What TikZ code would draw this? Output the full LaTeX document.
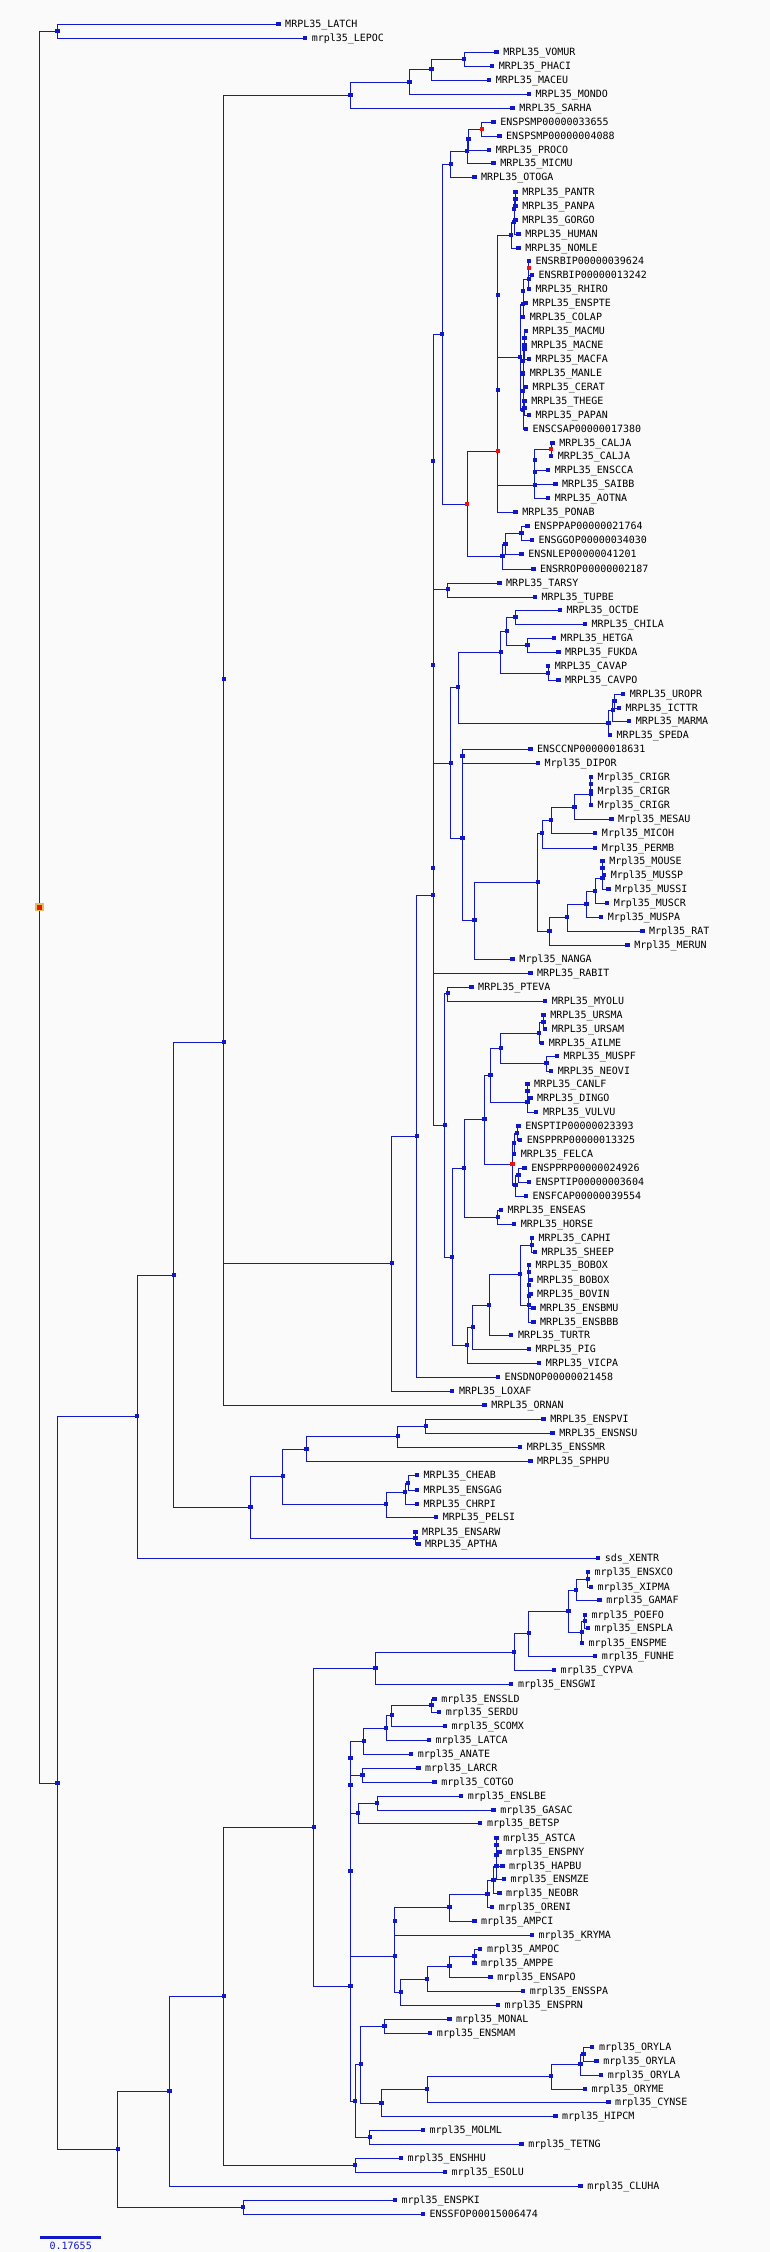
\documentclass[tikz,border=0pt]{standalone}
\usepackage{fontspec}
\newfontfamily\leaffont{DejaVu Sans Mono}
\usetikzlibrary{positioning,backgrounds}
\definecolor{treeblue}{RGB}{16,24,200}
\definecolor{duplred}{RGB}{240,16,16}
\definecolor{rootgold}{RGB}{230,190,80}
\definecolor{paper}{RGB}{250,250,250}
\tikzset{
    node distance=4.2pt,
    inode/.style = {
        shape=rectangle,
        fill=treeblue,
        minimum width=4.4pt,
        minimum height=4pt,
        inner sep=0pt
    },
    dnode/.style = {
        inode,
        fill=duplred
    },
    tip/.style = {
        inode
    },
    rootnode/.style = {
        shape=rectangle,
        fill=duplred,
        draw=rootgold,
        line width=1.7pt,
        minimum width=7pt,
        minimum height=6.7pt,
        inner sep=0pt
    },
    lab/.style = {
        font=\leaffont\fontsize{10}{12}\selectfont,
        inner sep=0pt,
        text height=7.3pt,
        text depth=0pt
    },
    branch/.style = {
        draw=treeblue,
        line width=0.9pt
    },
}

\begin{document}
\begin{tikzpicture}[x=1.4732pt,y=-1pt]
                \useasboundingbox (0,0) rectangle (522.67,2252);

                % internal nodes
                \node[rootnode] (root) at (27,907) {};
                \node[inode] (latlep) at (39,31) {};
                \node[inode] (vert) at (39,1783) {};
                \node[inode] (tetp) at (93,1416) {};
                \node[inode] (amni) at (118,1275) {};
                \node[inode] (mamm) at (152,1042) {};
                \node[inode] (thera) at (152,679) {};
                \node[inode] (mars) at (238,95) {};
                \node[inode] (marsA) at (278,82) {};
                \node[inode] (marsB) at (293,69) {};
                \node[inode] (marsC) at (315,59) {};
                \node[inode] (euth) at (266,1263) {};
                \node[inode] (euthA) at (283,1136) {};
                \node[inode] (bore) at (294,895) {};
                \node[inode] (euarA) at (294,665) {};
                \node[inode] (euarB) at (294,461) {};
                \node[inode] (prim) at (300,334) {};
                \node[inode] (strep) at (306,164) {};
                \node[inode] (lemA) at (317,151) {};
                \node[inode] (lemB) at (318,139) {};
                \node[dnode] (psm) at (327,129) {};
                \node[dnode] (anth) at (317,504) {};
                \node[dnode] (catA) at (338,451) {};
                \node[inode] (catB) at (338,390) {};
                \node[inode] (catC) at (338,295) {};
                \node[inode] (homA) at (347,235) {};
                \node[inode] (homB) at (349,222) {};
                \node[inode] (homC) at (349,209) {};
                \node[inode] (homD) at (350,199) {};
                \node[inode] (cerc) at (353,357) {};
                \node[inode] (cercA) at (355,304) {};
                \node[inode] (cercB) at (355,291) {};
                \node[inode] (cercC) at (359,279) {};
                \node[dnode] (rbip) at (359,268) {};
                \node[inode] (cercG) at (355,410) {};
                \node[inode] (cercF) at (355,391) {};
                \node[inode] (cercD) at (355,374) {};
                \node[inode] (cercE) at (356,408) {};
                \node[inode] (macC) at (355,361) {};
                \node[inode] (macB) at (356,349) {};
                \node[inode] (macA) at (356,338) {};
                \node[inode] (platy) at (363,485) {};
                \node[inode] (platyA) at (363,472) {};
                \node[inode] (platyB) at (363,460) {};
                \node[dnode] (calja) at (374,449) {};
                \node[inode] (ensHom) at (341,556) {};
                \node[inode] (ensHomA) at (343,544) {};
                \node[inode] (ensHomB) at (354,533) {};
                \node[inode] (tartup) at (304,589) {};
                \node[inode] (glires) at (294,868) {};
                \node[inode] (rode) at (306,763) {};
                \node[inode] (rodA) at (311,687) {};
                \node[inode] (hyst) at (340,652) {};
                \node[inode] (hystA) at (344,631) {};
                \node[inode] (octo) at (350,617) {};
                \node[inode] (bath) at (358,645) {};
                \node[inode] (cav) at (372,673) {};
                \node[inode] (sciu) at (413,723) {};
                \node[inode] (sciuA) at (416,710) {};
                \node[inode] (sciuB) at (417,701) {};
                \node[inode] (rodB) at (314,838) {};
                \node[inode] (dipo) at (314,756) {};
                \node[inode] (myo) at (322,920) {};
                \node[inode] (muro) at (365,882) {};
                \node[inode] (cric) at (368,833) {};
                \node[inode] (cricA) at (374,820) {};
                \node[inode] (cricB) at (390,807) {};
                \node[inode] (crigr) at (401,794) {};
                \node[inode] (crigrAB) at (401,784) {};
                \node[inode] (murA) at (373,931) {};
                \node[inode] (murB) at (385,917) {};
                \node[inode] (mus) at (398,904) {};
                \node[inode] (musA) at (404,891) {};
                \node[inode] (musB) at (409,878) {};
                \node[inode] (musC) at (409,868) {};
                \node[inode] (laur) at (302,1125) {};
                \node[inode] (chir) at (304,993) {};
                \node[inode] (laurA) at (307,1257) {};
                \node[inode] (ferp) at (315,1168) {};
                \node[inode] (carn) at (329,1119) {};
                \node[inode] (canif) at (333,1075) {};
                \node[inode] (arct) at (340,1048) {};
                \node[inode] (urs) at (366,1033) {};
                \node[inode] (ursA) at (369,1022) {};
                \node[inode] (mustA) at (371,1063) {};
                \node[inode] (can) at (358,1102) {};
                \node[inode] (canA) at (358,1091) {};
                \node[dnode] (fel) at (348,1164) {};
                \node[inode] (felA) at (349,1143) {};
                \node[inode] (felC) at (351,1133) {};
                \node[inode] (felB) at (350,1185) {};
                \node[inode] (felD) at (352,1175) {};
                \node[inode] (equ) at (338,1217) {};
                \node[inode] (cet) at (317,1345) {};
                \node[inode] (cetA) at (321,1327) {};
                \node[inode] (cetB) at (332,1305) {};
                \node[inode] (rum) at (353,1274) {};
                \node[inode] (capr) at (361,1245) {};
                \node[inode] (bov) at (359,1305) {};
                \node[inode] (bovA) at (359,1296) {};
                \node[inode] (bovB) at (359,1285) {};
                \node[inode] (bovC) at (359,1272) {};
                \node[inode] (saur) at (170,1507) {};
                \node[inode] (saurA) at (192,1476) {};
                \node[inode] (squa) at (208,1449) {};
                \node[inode] (squaA) at (270,1436) {};
                \node[inode] (squaB) at (289,1426) {};
                \node[inode] (test) at (262,1504) {};
                \node[inode] (testA) at (275,1492) {};
                \node[inode] (testB) at (277,1483) {};
                \node[inode] (arch) at (282,1538) {};
                \node[inode] (fish) at (80,2149) {};
                \node[inode] (salm) at (165,2207) {};
                \node[inode] (oste) at (115,2091) {};
                \node[inode] (clup) at (152,1996) {};
                \node[inode] (esoc) at (241,2165) {};
                \node[inode] (acan) at (213,1827) {};
                \node[inode] (cypr) at (255,1668) {};
                \node[inode] (cyprA) at (349,1652) {};
                \node[inode] (cyprB) at (359,1633) {};
                \node[inode] (cyprC) at (386,1611) {};
                \node[inode] (poec) at (391,1590) {};
                \node[inode] (xiph) at (399,1579) {};
                \node[inode] (poecB) at (395,1632) {};
                \node[inode] (poecC) at (397,1621) {};
                \node[inode] (perc) at (238,1986) {};
                \node[inode] (percA) at (238,1871) {};
                \node[inode] (percB) at (238,1785) {};
                \node[inode] (percC) at (238,1758) {};
                \node[inode] (scom) at (247,1741) {};
                \node[inode] (scomA) at (262,1728) {};
                \node[inode] (scomB) at (266,1715) {};
                \node[inode] (scomC) at (293,1705) {};
                \node[inode] (lar) at (246,1775) {};
                \node[inode] (gast) at (243,1813) {};
                \node[inode] (gastA) at (256,1803) {};
                \node[inode] (cich) at (268,1956) {};
                \node[inode] (cichA) at (268,1921) {};
                \node[inode] (cichB) at (305,1907) {};
                \node[inode] (cichC) at (331,1894) {};
                \node[inode] (cichD) at (335,1880) {};
                \node[inode] (cichE) at (337,1866) {};
                \node[inode] (cichF) at (337,1855) {};
                \node[inode] (cichG) at (337,1845) {};
                \node[inode] (cichH) at (272,1992) {};
                \node[inode] (cichI) at (290,1979) {};
                \node[inode] (cichJ) at (305,1966) {};
                \node[inode] (amp) at (322,1956) {};
                \node[inode] (percH) at (241,2101) {};
                \node[inode] (percI) at (245,2064) {};
                \node[inode] (mon) at (261,2026) {};
                \node[inode] (ath) at (259,2103) {};
                \node[inode] (athA) at (290,2089) {};
                \node[inode] (ory) at (374,2076) {};
                \node[inode] (oryA) at (394,2064) {};
                \node[inode] (oryB) at (396,2054) {};
                \node[inode] (tetn) at (251,2137) {};

                % leaves
                \node[tip] (latch) at (189,24) {};
                \node[lab, right=of latch] (latch-t) {MRPL35\_LATCH};
                \node[tip] (lepoc) at (207,38) {};
                \node[lab, right=of lepoc] (lepoc-t) {mrpl35\_LEPOC};
                \node[tip] (vomur) at (337,52) {};
                \node[lab, right=of vomur] (vomur-t) {MRPL35\_VOMUR};
                \node[tip] (phaci) at (334,66) {};
                \node[lab, right=of phaci] (phaci-t) {MRPL35\_PHACI};
                \node[tip] (maceu) at (332,80) {};
                \node[lab, right=of maceu] (maceu-t) {MRPL35\_MACEU};
                \node[tip] (mondo) at (359,94) {};
                \node[lab, right=of mondo] (mondo-t) {MRPL35\_MONDO};
                \node[tip] (sarha) at (348,108) {};
                \node[lab, right=of sarha] (sarha-t) {MRPL35\_SARHA};
                \node[tip] (psmA) at (335,122) {};
                \node[lab, right=of psmA] (psmA-t) {ENSPSMP00000033655};
                \node[tip] (psmB) at (339,136) {};
                \node[lab, right=of psmB] (psmB-t) {ENSPSMP00000004088};
                \node[tip] (proco) at (332,150) {};
                \node[lab, right=of proco] (proco-t) {MRPL35\_PROCO};
                \node[tip] (micmu) at (335,163) {};
                \node[lab, right=of micmu] (micmu-t) {MRPL35\_MICMU};
                \node[tip] (otoga) at (322,177) {};
                \node[lab, right=of otoga] (otoga-t) {MRPL35\_OTOGA};
                \node[tip] (pantr) at (350,192) {};
                \node[lab, right=of pantr] (pantr-t) {MRPL35\_PANTR};
                \node[tip] (panpa) at (350,206) {};
                \node[lab, right=of panpa] (panpa-t) {MRPL35\_PANPA};
                \node[tip] (gorgo) at (350,220) {};
                \node[lab, right=of gorgo] (gorgo-t) {MRPL35\_GORGO};
                \node[tip] (human) at (352,234) {};
                \node[lab, right=of human] (human-t) {MRPL35\_HUMAN};
                \node[tip] (nomle) at (352,248) {};
                \node[lab, right=of nomle] (nomle-t) {MRPL35\_NOMLE};
                \node[tip] (rbipA) at (359,261) {};
                \node[lab, right=of rbipA] (rbipA-t) {ENSRBIP00000039624};
                \node[tip] (rbipB) at (361,275) {};
                \node[lab, right=of rbipB] (rbipB-t) {ENSRBIP00000013242};
                \node[tip] (rhiro) at (359,289) {};
                \node[lab, right=of rhiro] (rhiro-t) {MRPL35\_RHIRO};
                \node[tip] (enspte) at (357,303) {};
                \node[lab, right=of enspte] (enspte-t) {MRPL35\_ENSPTE};
                \node[tip] (colap) at (355,317) {};
                \node[lab, right=of colap] (colap-t) {MRPL35\_COLAP};
                \node[tip] (macmu) at (357,331) {};
                \node[lab, right=of macmu] (macmu-t) {MRPL35\_MACMU};
                \node[tip] (macne) at (356,345) {};
                \node[lab, right=of macne] (macne-t) {MRPL35\_MACNE};
                \node[tip] (macfa) at (359,359) {};
                \node[lab, right=of macfa] (macfa-t) {MRPL35\_MACFA};
                \node[tip] (manle) at (355,373) {};
                \node[lab, right=of manle] (manle-t) {MRPL35\_MANLE};
                \node[tip] (cerat) at (357,387) {};
                \node[lab, right=of cerat] (cerat-t) {MRPL35\_CERAT};
                \node[tip] (thege) at (356,401) {};
                \node[lab, right=of thege] (thege-t) {MRPL35\_THEGE};
                \node[tip] (papan) at (359,415) {};
                \node[lab, right=of papan] (papan-t) {MRPL35\_PAPAN};
                \node[tip] (csap) at (357,429) {};
                \node[lab, right=of csap] (csap-t) {ENSCSAP00000017380};
                \node[tip] (caljaA) at (375,443) {};
                \node[lab, right=of caljaA] (caljaA-t) {MRPL35\_CALJA};
                \node[tip] (caljaB) at (374,456) {};
                \node[lab, right=of caljaB] (caljaB-t) {MRPL35\_CALJA};
                \node[tip] (enscca) at (372,470) {};
                \node[lab, right=of enscca] (enscca-t) {MRPL35\_ENSCCA};
                \node[tip] (saibb) at (377,484) {};
                \node[lab, right=of saibb] (saibb-t) {MRPL35\_SAIBB};
                \node[tip] (aotna) at (372,498) {};
                \node[lab, right=of aotna] (aotna-t) {MRPL35\_AOTNA};
                \node[tip] (ponab) at (350,512) {};
                \node[lab, right=of ponab] (ponab-t) {MRPL35\_PONAB};
                \node[tip] (ppap) at (358,526) {};
                \node[lab, right=of ppap] (ppap-t) {ENSPPAP00000021764};
                \node[tip] (ggop) at (361,540) {};
                \node[lab, right=of ggop] (ggop-t) {ENSGGOP00000034030};
                \node[tip] (nlep) at (354,554) {};
                \node[lab, right=of nlep] (nlep-t) {ENSNLEP00000041201};
                \node[tip] (rrop) at (362,569) {};
                \node[lab, right=of rrop] (rrop-t) {ENSRROP00000002187};
                \node[tip] (tarsy) at (339,583) {};
                \node[lab, right=of tarsy] (tarsy-t) {MRPL35\_TARSY};
                \node[tip] (tupbe) at (363,597) {};
                \node[lab, right=of tupbe] (tupbe-t) {MRPL35\_TUPBE};
                \node[tip] (octde) at (380,610) {};
                \node[lab, right=of octde] (octde-t) {MRPL35\_OCTDE};
                \node[tip] (chila) at (397,624) {};
                \node[lab, right=of chila] (chila-t) {MRPL35\_CHILA};
                \node[tip] (hetga) at (376,638) {};
                \node[lab, right=of hetga] (hetga-t) {MRPL35\_HETGA};
                \node[tip] (fukda) at (379,652) {};
                \node[lab, right=of fukda] (fukda-t) {MRPL35\_FUKDA};
                \node[tip] (cavap) at (372,666) {};
                \node[lab, right=of cavap] (cavap-t) {MRPL35\_CAVAP};
                \node[tip] (cavpo) at (379,680) {};
                \node[lab, right=of cavpo] (cavpo-t) {MRPL35\_CAVPO};
                \node[tip] (uropr) at (423,694) {};
                \node[lab, right=of uropr] (uropr-t) {MRPL35\_UROPR};
                \node[tip] (icttr) at (420,708) {};
                \node[lab, right=of icttr] (icttr-t) {MRPL35\_ICTTR};
                \node[tip] (marma) at (427,721) {};
                \node[lab, right=of marma] (marma-t) {MRPL35\_MARMA};
                \node[tip] (speda) at (414,735) {};
                \node[lab, right=of speda] (speda-t) {MRPL35\_SPEDA};
                \node[tip] (ccnp) at (360,749) {};
                \node[lab, right=of ccnp] (ccnp-t) {ENSCCNP00000018631};
                \node[tip] (dipor) at (365,763) {};
                \node[lab, right=of dipor] (dipor-t) {Mrpl35\_DIPOR};
                \node[tip] (crigrA) at (401,777) {};
                \node[lab, right=of crigrA] (crigrA-t) {Mrpl35\_CRIGR};
                \node[tip] (crigrB) at (401,791) {};
                \node[lab, right=of crigrB] (crigrB-t) {Mrpl35\_CRIGR};
                \node[tip] (crigrC) at (401,805) {};
                \node[lab, right=of crigrC] (crigrC-t) {Mrpl35\_CRIGR};
                \node[tip] (mesau) at (415,819) {};
                \node[lab, right=of mesau] (mesau-t) {Mrpl35\_MESAU};
                \node[tip] (micoh) at (404,833) {};
                \node[lab, right=of micoh] (micoh-t) {Mrpl35\_MICOH};
                \node[tip] (permb) at (404,848) {};
                \node[lab, right=of permb] (permb-t) {Mrpl35\_PERMB};
                \node[tip] (mouse) at (409,861) {};
                \node[lab, right=of mouse] (mouse-t) {Mrpl35\_MOUSE};
                \node[tip] (mussp) at (410,875) {};
                \node[lab, right=of mussp] (mussp-t) {Mrpl35\_MUSSP};
                \node[tip] (mussi) at (413,889) {};
                \node[lab, right=of mussi] (mussi-t) {Mrpl35\_MUSSI};
                \node[tip] (muscr) at (412,903) {};
                \node[lab, right=of muscr] (muscr-t) {Mrpl35\_MUSCR};
                \node[tip] (muspa) at (408,917) {};
                \node[lab, right=of muspa] (muspa-t) {Mrpl35\_MUSPA};
                \node[tip] (rat) at (436,931) {};
                \node[lab, right=of rat] (rat-t) {Mrpl35\_RAT};
                \node[tip] (merun) at (426,945) {};
                \node[lab, right=of merun] (merun-t) {Mrpl35\_MERUN};
                \node[tip] (nanga) at (348,959) {};
                \node[lab, right=of nanga] (nanga-t) {Mrpl35\_NANGA};
                \node[tip] (rabit) at (360,973) {};
                \node[lab, right=of rabit] (rabit-t) {MRPL35\_RABIT};
                \node[tip] (pteva) at (320,987) {};
                \node[lab, right=of pteva] (pteva-t) {MRPL35\_PTEVA};
                \node[tip] (myolu) at (370,1001) {};
                \node[lab, right=of myolu] (myolu-t) {MRPL35\_MYOLU};
                \node[tip] (ursma) at (369,1015) {};
                \node[lab, right=of ursma] (ursma-t) {MRPL35\_URSMA};
                \node[tip] (ursam) at (370,1029) {};
                \node[lab, right=of ursam] (ursam-t) {MRPL35\_URSAM};
                \node[tip] (ailme) at (368,1043) {};
                \node[lab, right=of ailme] (ailme-t) {MRPL35\_AILME};
                \node[tip] (muspf) at (378,1056) {};
                \node[lab, right=of muspf] (muspf-t) {MRPL35\_MUSPF};
                \node[tip] (neovi) at (374,1071) {};
                \node[lab, right=of neovi] (neovi-t) {MRPL35\_NEOVI};
                \node[tip] (canlf) at (358,1084) {};
                \node[lab, right=of canlf] (canlf-t) {MRPL35\_CANLF};
                \node[tip] (dingo) at (360,1098) {};
                \node[lab, right=of dingo] (dingo-t) {MRPL35\_DINGO};
                \node[tip] (vulvu) at (364,1112) {};
                \node[lab, right=of vulvu] (vulvu-t) {MRPL35\_VULVU};
                \node[tip] (ptipA) at (352,1126) {};
                \node[lab, right=of ptipA] (ptipA-t) {ENSPTIP00000023393};
                \node[tip] (pprpA) at (353,1140) {};
                \node[lab, right=of pprpA] (pprpA-t) {ENSPPRP00000013325};
                \node[tip] (felca) at (349,1154) {};
                \node[lab, right=of felca] (felca-t) {MRPL35\_FELCA};
                \node[tip] (pprpB) at (356,1168) {};
                \node[lab, right=of pprpB] (pprpB-t) {ENSPPRP00000024926};
                \node[tip] (ptipB) at (359,1182) {};
                \node[lab, right=of ptipB] (ptipB-t) {ENSPTIP00000003604};
                \node[tip] (fcap) at (357,1196) {};
                \node[lab, right=of fcap] (fcap-t) {ENSFCAP00000039554};
                \node[tip] (enseas) at (340,1210) {};
                \node[lab, right=of enseas] (enseas-t) {MRPL35\_ENSEAS};
                \node[tip] (horse) at (349,1224) {};
                \node[lab, right=of horse] (horse-t) {MRPL35\_HORSE};
                \node[tip] (caphi) at (361,1238) {};
                \node[lab, right=of caphi] (caphi-t) {MRPL35\_CAPHI};
                \node[tip] (sheep) at (363,1252) {};
                \node[lab, right=of sheep] (sheep-t) {MRPL35\_SHEEP};
                \node[tip] (boboxA) at (359,1265) {};
                \node[lab, right=of boboxA] (boboxA-t) {MRPL35\_BOBOX};
                \node[tip] (boboxB) at (360,1280) {};
                \node[lab, right=of boboxB] (boboxB-t) {MRPL35\_BOBOX};
                \node[tip] (bovin) at (360,1294) {};
                \node[lab, right=of bovin] (bovin-t) {MRPL35\_BOVIN};
                \node[tip] (ensbmu) at (362,1308) {};
                \node[lab, right=of ensbmu] (ensbmu-t) {MRPL35\_ENSBMU};
                \node[tip] (ensbbb) at (362,1322) {};
                \node[lab, right=of ensbbb] (ensbbb-t) {MRPL35\_ENSBBB};
                \node[tip] (turtr) at (347,1335) {};
                \node[lab, right=of turtr] (turtr-t) {MRPL35\_TURTR};
                \node[tip] (pig) at (359,1349) {};
                \node[lab, right=of pig] (pig-t) {MRPL35\_PIG};
                \node[tip] (vicpa) at (366,1363) {};
                \node[lab, right=of vicpa] (vicpa-t) {MRPL35\_VICPA};
                \node[tip] (dnop) at (338,1377) {};
                \node[lab, right=of dnop] (dnop-t) {ENSDNOP00000021458};
                \node[tip] (loxaf) at (307,1391) {};
                \node[lab, right=of loxaf] (loxaf-t) {MRPL35\_LOXAF};
                \node[tip] (ornan) at (329,1405) {};
                \node[lab, right=of ornan] (ornan-t) {MRPL35\_ORNAN};
                \node[tip] (enspvi) at (369,1419) {};
                \node[lab, right=of enspvi] (enspvi-t) {MRPL35\_ENSPVI};
                \node[tip] (ensnsu) at (375,1433) {};
                \node[lab, right=of ensnsu] (ensnsu-t) {MRPL35\_ENSNSU};
                \node[tip] (enssmr) at (353,1447) {};
                \node[lab, right=of enssmr] (enssmr-t) {MRPL35\_ENSSMR};
                \node[tip] (sphpu) at (360,1461) {};
                \node[lab, right=of sphpu] (sphpu-t) {MRPL35\_SPHPU};
                \node[tip] (cheab) at (283,1475) {};
                \node[lab, right=of cheab] (cheab-t) {MRPL35\_CHEAB};
                \node[tip] (ensgag) at (283,1490) {};
                \node[lab, right=of ensgag] (ensgag-t) {MRPL35\_ENSGAG};
                \node[tip] (chrpi) at (283,1504) {};
                \node[lab, right=of chrpi] (chrpi-t) {MRPL35\_CHRPI};
                \node[tip] (pelsi) at (296,1517) {};
                \node[lab, right=of pelsi] (pelsi-t) {MRPL35\_PELSI};
                \node[tip] (ensarw) at (282,1532) {};
                \node[lab, right=of ensarw] (ensarw-t) {MRPL35\_ENSARW};
                \node[tip] (aptha) at (284,1544) {};
                \node[lab, right=of aptha] (aptha-t) {MRPL35\_APTHA};
                \node[tip] (xentr) at (406,1558) {};
                \node[lab, right=of xentr] (xentr-t) {sds\_XENTR};
                \node[tip] (ensxco) at (399,1572) {};
                \node[lab, right=of ensxco] (ensxco-t) {mrpl35\_ENSXCO};
                \node[tip] (xipma) at (401,1587) {};
                \node[lab, right=of xipma] (xipma-t) {mrpl35\_XIPMA};
                \node[tip] (gamaf) at (407,1600) {};
                \node[lab, right=of gamaf] (gamaf-t) {mrpl35\_GAMAF};
                \node[tip] (poefo) at (397,1615) {};
                \node[lab, right=of poefo] (poefo-t) {mrpl35\_POEFO};
                \node[tip] (enspla) at (399,1628) {};
                \node[lab, right=of enspla] (enspla-t) {mrpl35\_ENSPLA};
                \node[tip] (enspme) at (395,1643) {};
                \node[lab, right=of enspme] (enspme-t) {mrpl35\_ENSPME};
                \node[tip] (funhe) at (404,1656) {};
                \node[lab, right=of funhe] (funhe-t) {mrpl35\_FUNHE};
                \node[tip] (cypva) at (376,1670) {};
                \node[lab, right=of cypva] (cypva-t) {mrpl35\_CYPVA};
                \node[tip] (ensgwi) at (347,1684) {};
                \node[lab, right=of ensgwi] (ensgwi-t) {mrpl35\_ENSGWI};
                \node[tip] (enssld) at (295,1699) {};
                \node[lab, right=of enssld] (enssld-t) {mrpl35\_ENSSLD};
                \node[tip] (serdu) at (298,1712) {};
                \node[lab, right=of serdu] (serdu-t) {mrpl35\_SERDU};
                \node[tip] (scomx) at (302,1726) {};
                \node[lab, right=of scomx] (scomx-t) {mrpl35\_SCOMX};
                \node[tip] (latca) at (291,1740) {};
                \node[lab, right=of latca] (latca-t) {mrpl35\_LATCA};
                \node[tip] (anate) at (279,1754) {};
                \node[lab, right=of anate] (anate-t) {mrpl35\_ANATE};
                \node[tip] (larcr) at (284,1768) {};
                \node[lab, right=of larcr] (larcr-t) {mrpl35\_LARCR};
                \node[tip] (cotgo) at (295,1782) {};
                \node[lab, right=of cotgo] (cotgo-t) {mrpl35\_COTGO};
                \node[tip] (enslbe) at (313,1796) {};
                \node[lab, right=of enslbe] (enslbe-t) {mrpl35\_ENSLBE};
                \node[tip] (gasac) at (335,1810) {};
                \node[lab, right=of gasac] (gasac-t) {mrpl35\_GASAC};
                \node[tip] (betsp) at (326,1823) {};
                \node[lab, right=of betsp] (betsp-t) {mrpl35\_BETSP};
                \node[tip] (astca) at (337,1838) {};
                \node[lab, right=of astca] (astca-t) {mrpl35\_ASTCA};
                \node[tip] (enspny) at (339,1852) {};
                \node[lab, right=of enspny] (enspny-t) {mrpl35\_ENSPNY};
                \node[tip] (hapbu) at (341,1866) {};
                \node[lab, right=of hapbu] (hapbu-t) {mrpl35\_HAPBU};
                \node[tip] (ensmze) at (342,1879) {};
                \node[lab, right=of ensmze] (ensmze-t) {mrpl35\_ENSMZE};
                \node[tip] (neobr) at (339,1893) {};
                \node[lab, right=of neobr] (neobr-t) {mrpl35\_NEOBR};
                \node[tip] (oreni) at (334,1907) {};
                \node[lab, right=of oreni] (oreni-t) {mrpl35\_ORENI};
                \node[tip] (ampci) at (322,1921) {};
                \node[lab, right=of ampci] (ampci-t) {mrpl35\_AMPCI};
                \node[tip] (kryma) at (361,1935) {};
                \node[lab, right=of kryma] (kryma-t) {mrpl35\_KRYMA};
                \node[tip] (ampoc) at (326,1949) {};
                \node[lab, right=of ampoc] (ampoc-t) {mrpl35\_AMPOC};
                \node[tip] (amppe) at (322,1963) {};
                \node[lab, right=of amppe] (amppe-t) {mrpl35\_AMPPE};
                \node[tip] (ensapo) at (333,1977) {};
                \node[lab, right=of ensapo] (ensapo-t) {mrpl35\_ENSAPO};
                \node[tip] (ensspa) at (355,1991) {};
                \node[lab, right=of ensspa] (ensspa-t) {mrpl35\_ENSSPA};
                \node[tip] (ensprn) at (338,2005) {};
                \node[lab, right=of ensprn] (ensprn-t) {mrpl35\_ENSPRN};
                \node[tip] (monal) at (305,2019) {};
                \node[lab, right=of monal] (monal-t) {mrpl35\_MONAL};
                \node[tip] (ensmam) at (292,2033) {};
                \node[lab, right=of ensmam] (ensmam-t) {mrpl35\_ENSMAM};
                \node[tip] (orylaA) at (402,2047) {};
                \node[lab, right=of orylaA] (orylaA-t) {mrpl35\_ORYLA};
                \node[tip] (orylaB) at (405,2061) {};
                \node[lab, right=of orylaB] (orylaB-t) {mrpl35\_ORYLA};
                \node[tip] (orylaC) at (408,2075) {};
                \node[lab, right=of orylaC] (orylaC-t) {mrpl35\_ORYLA};
                \node[tip] (oryme) at (397,2089) {};
                \node[lab, right=of oryme] (oryme-t) {mrpl35\_ORYME};
                \node[tip] (cynse) at (413,2102) {};
                \node[lab, right=of cynse] (cynse-t) {mrpl35\_CYNSE};
                \node[tip] (hipcm) at (377,2116) {};
                \node[lab, right=of hipcm] (hipcm-t) {mrpl35\_HIPCM};
                \node[tip] (molml) at (287,2130) {};
                \node[lab, right=of molml] (molml-t) {mrpl35\_MOLML};
                \node[tip] (tetng) at (354,2144) {};
                \node[lab, right=of tetng] (tetng-t) {mrpl35\_TETNG};
                \node[tip] (enshhu) at (272,2158) {};
                \node[lab, right=of enshhu] (enshhu-t) {mrpl35\_ENSHHU};
                \node[tip] (esolu) at (302,2172) {};
                \node[lab, right=of esolu] (esolu-t) {mrpl35\_ESOLU};
                \node[tip] (cluha) at (394,2186) {};
                \node[lab, right=of cluha] (cluha-t) {mrpl35\_CLUHA};
                \node[tip] (enspki) at (268,2200) {};
                \node[lab, right=of enspki] (enspki-t) {mrpl35\_ENSPKI};
                \node[tip] (ssfop) at (287,2214) {};
                \node[lab, right=of ssfop] (ssfop-t) {ENSSFOP00015006474};

                % scale bar
                \coordinate (scaleL) at (27.3,2237.5);
                \coordinate (scaleR) at (68.3,2237.5);
                \path[draw=treeblue, line width=2.5pt] (scaleL) -- (scaleR);
                \node[lab, text=treeblue, anchor=north] (scale-t) at (48,2241.5) {0.17655};

                \begin{scope}[on background layer]
                \fill[paper] (0,0) rectangle (522.67,2252);
                \path[branch] (root.center) |- (latlep.center) (root.center) |- (vert.center);
                \path[branch] (latlep.center) |- (latch.center) (latlep.center) |- (lepoc.center);
                \path[branch] (vert.center) |- (tetp.center) (vert.center) |- (fish.center);
                \path[branch] (tetp.center) |- (amni.center) (tetp.center) |- (xentr.center);
                \path[branch] (amni.center) |- (mamm.center) (amni.center) |- (saur.center);
                \path[branch] (mamm.center) |- (thera.center) (mamm.center) |- (ornan.center);
                \path[branch] (thera.center) |- (mars.center) (thera.center) |- (euth.center);
                \path[branch] (mars.center) |- (marsA.center) (mars.center) |- (sarha.center);
                \path[branch] (marsA.center) |- (marsB.center) (marsA.center) |- (mondo.center);
                \path[branch] (marsB.center) |- (marsC.center) (marsB.center) |- (maceu.center);
                \path[branch] (marsC.center) |- (vomur.center) (marsC.center) |- (phaci.center);
                \path[branch] (euth.center) |- (euthA.center) (euth.center) |- (loxaf.center);
                \path[branch] (euthA.center) |- (bore.center) (euthA.center) |- (dnop.center);
                \path[branch] (bore.center) |- (euarA.center) (bore.center) |- (laur.center);
                \path[branch] (euarA.center) |- (euarB.center) (euarA.center) |- (glires.center);
                \path[branch] (euarB.center) |- (prim.center) (euarB.center) |- (tartup.center);
                \path[branch] (prim.center) |- (strep.center) (prim.center) |- (anth.center);
                \path[branch] (strep.center) |- (lemA.center) (strep.center) |- (otoga.center);
                \path[branch] (lemA.center) |- (lemB.center) (lemA.center) |- (micmu.center);
                \path[branch] (lemB.center) |- (psm.center) (lemB.center) |- (proco.center);
                \path[branch] (psm.center) |- (psmA.center) (psm.center) |- (psmB.center);
                \path[branch] (anth.center) |- (catA.center) (anth.center) |- (ensHom.center);
                \path[branch] (catA.center) |- (catB.center) (catA.center) |- (ponab.center);
                \path[branch] (catB.center) |- (catC.center) (catB.center) |- (platy.center);
                \path[branch] (catC.center) |- (homA.center) (catC.center) |- (cerc.center);
                \path[branch] (homA.center) |- (homB.center) (homA.center) |- (nomle.center);
                \path[branch] (homB.center) |- (homC.center) (homB.center) |- (human.center);
                \path[branch] (homC.center) |- (homD.center) (homC.center) |- (gorgo.center);
                \path[branch] (homD.center) |- (pantr.center) (homD.center) |- (panpa.center);
                \path[branch] (cerc.center) |- (cercA.center) (cerc.center) |- (cercG.center);
                \path[branch] (cercA.center) |- (cercB.center) (cercA.center) |- (colap.center);
                \path[branch] (cercB.center) |- (cercC.center) (cercB.center) |- (enspte.center);
                \path[branch] (cercC.center) |- (rbip.center) (cercC.center) |- (rhiro.center);
                \path[branch] (rbip.center) |- (rbipA.center) (rbip.center) |- (rbipB.center);
                \path[branch] (cercG.center) |- (cercF.center) (cercG.center) |- (csap.center);
                \path[branch] (cercF.center) |- (cercD.center) (cercF.center) |- (cercE.center);
                \path[branch] (cercD.center) |- (macC.center) (cercD.center) |- (cerat.center);
                \path[branch] (macC.center) |- (macB.center) (macC.center) |- (manle.center);
                \path[branch] (macB.center) |- (macA.center) (macB.center) |- (macfa.center);
                \path[branch] (macA.center) |- (macmu.center) (macA.center) |- (macne.center);
                \path[branch] (cercE.center) |- (thege.center) (cercE.center) |- (papan.center);
                \path[branch] (platy.center) |- (platyA.center) (platy.center) |- (aotna.center);
                \path[branch] (platyA.center) |- (platyB.center) (platyA.center) |- (saibb.center);
                \path[branch] (platyB.center) |- (calja.center) (platyB.center) |- (enscca.center);
                \path[branch] (calja.center) |- (caljaA.center) (calja.center) |- (caljaB.center);
                \path[branch] (ensHom.center) |- (ensHomA.center) (ensHom.center) |- (rrop.center);
                \path[branch] (ensHomA.center) |- (ensHomB.center) (ensHomA.center) |- (nlep.center);
                \path[branch] (ensHomB.center) |- (ppap.center) (ensHomB.center) |- (ggop.center);
                \path[branch] (tartup.center) |- (tarsy.center) (tartup.center) |- (tupbe.center);
                \path[branch] (glires.center) |- (rode.center) (glires.center) |- (rabit.center);
                \path[branch] (rode.center) |- (rodA.center) (rode.center) |- (rodB.center);
                \path[branch] (rodA.center) |- (hyst.center) (rodA.center) |- (sciu.center);
                \path[branch] (hyst.center) |- (hystA.center) (hyst.center) |- (cav.center);
                \path[branch] (hystA.center) |- (octo.center) (hystA.center) |- (bath.center);
                \path[branch] (octo.center) |- (octde.center) (octo.center) |- (chila.center);
                \path[branch] (bath.center) |- (hetga.center) (bath.center) |- (fukda.center);
                \path[branch] (cav.center) |- (cavap.center) (cav.center) |- (cavpo.center);
                \path[branch] (sciu.center) |- (sciuA.center) (sciu.center) |- (speda.center);
                \path[branch] (sciuA.center) |- (sciuB.center) (sciuA.center) |- (marma.center);
                \path[branch] (sciuB.center) |- (uropr.center) (sciuB.center) |- (icttr.center);
                \path[branch] (rodB.center) |- (dipo.center) (rodB.center) |- (myo.center);
                \path[branch] (dipo.center) |- (ccnp.center) (dipo.center) |- (dipor.center);
                \path[branch] (myo.center) |- (muro.center) (myo.center) |- (nanga.center);
                \path[branch] (muro.center) |- (cric.center) (muro.center) |- (murA.center);
                \path[branch] (cric.center) |- (cricA.center) (cric.center) |- (permb.center);
                \path[branch] (cricA.center) |- (cricB.center) (cricA.center) |- (micoh.center);
                \path[branch] (cricB.center) |- (crigr.center) (cricB.center) |- (mesau.center);
                \path[branch] (crigr.center) |- (crigrAB.center) (crigr.center) |- (crigrC.center);
                \path[branch] (crigrAB.center) |- (crigrA.center) (crigrAB.center) |- (crigrB.center);
                \path[branch] (murA.center) |- (murB.center) (murA.center) |- (merun.center);
                \path[branch] (murB.center) |- (mus.center) (murB.center) |- (rat.center);
                \path[branch] (mus.center) |- (musA.center) (mus.center) |- (muspa.center);
                \path[branch] (musA.center) |- (musB.center) (musA.center) |- (muscr.center);
                \path[branch] (musB.center) |- (musC.center) (musB.center) |- (mussi.center);
                \path[branch] (musC.center) |- (mouse.center) (musC.center) |- (mussp.center);
                \path[branch] (laur.center) |- (chir.center) (laur.center) |- (laurA.center);
                \path[branch] (chir.center) |- (pteva.center) (chir.center) |- (myolu.center);
                \path[branch] (laurA.center) |- (ferp.center) (laurA.center) |- (cet.center);
                \path[branch] (ferp.center) |- (carn.center) (ferp.center) |- (equ.center);
                \path[branch] (carn.center) |- (canif.center) (carn.center) |- (fel.center);
                \path[branch] (canif.center) |- (arct.center) (canif.center) |- (can.center);
                \path[branch] (arct.center) |- (urs.center) (arct.center) |- (mustA.center);
                \path[branch] (urs.center) |- (ursA.center) (urs.center) |- (ailme.center);
                \path[branch] (ursA.center) |- (ursma.center) (ursA.center) |- (ursam.center);
                \path[branch] (mustA.center) |- (muspf.center) (mustA.center) |- (neovi.center);
                \path[branch] (can.center) |- (canA.center) (can.center) |- (vulvu.center);
                \path[branch] (canA.center) |- (canlf.center) (canA.center) |- (dingo.center);
                \path[branch] (fel.center) |- (felA.center) (fel.center) |- (felB.center);
                \path[branch] (felA.center) |- (felC.center) (felA.center) |- (felca.center);
                \path[branch] (felC.center) |- (ptipA.center) (felC.center) |- (pprpA.center);
                \path[branch] (felB.center) |- (felD.center) (felB.center) |- (fcap.center);
                \path[branch] (felD.center) |- (pprpB.center) (felD.center) |- (ptipB.center);
                \path[branch] (equ.center) |- (enseas.center) (equ.center) |- (horse.center);
                \path[branch] (cet.center) |- (cetA.center) (cet.center) |- (vicpa.center);
                \path[branch] (cetA.center) |- (cetB.center) (cetA.center) |- (pig.center);
                \path[branch] (cetB.center) |- (rum.center) (cetB.center) |- (turtr.center);
                \path[branch] (rum.center) |- (capr.center) (rum.center) |- (bov.center);
                \path[branch] (capr.center) |- (caphi.center) (capr.center) |- (sheep.center);
                \path[branch] (bov.center) |- (bovA.center) (bov.center) |- (ensbbb.center);
                \path[branch] (bovA.center) |- (bovB.center) (bovA.center) |- (ensbmu.center);
                \path[branch] (bovB.center) |- (bovC.center) (bovB.center) |- (bovin.center);
                \path[branch] (bovC.center) |- (boboxA.center) (bovC.center) |- (boboxB.center);
                \path[branch] (saur.center) |- (saurA.center) (saur.center) |- (arch.center);
                \path[branch] (saurA.center) |- (squa.center) (saurA.center) |- (test.center);
                \path[branch] (squa.center) |- (squaA.center) (squa.center) |- (sphpu.center);
                \path[branch] (squaA.center) |- (squaB.center) (squaA.center) |- (enssmr.center);
                \path[branch] (squaB.center) |- (enspvi.center) (squaB.center) |- (ensnsu.center);
                \path[branch] (test.center) |- (testA.center) (test.center) |- (pelsi.center);
                \path[branch] (testA.center) |- (testB.center) (testA.center) |- (chrpi.center);
                \path[branch] (testB.center) |- (cheab.center) (testB.center) |- (ensgag.center);
                \path[branch] (arch.center) |- (ensarw.center) (arch.center) |- (aptha.center);
                \path[branch] (fish.center) |- (oste.center) (fish.center) |- (salm.center);
                \path[branch] (salm.center) |- (enspki.center) (salm.center) |- (ssfop.center);
                \path[branch] (oste.center) |- (clup.center) (oste.center) |- (cluha.center);
                \path[branch] (clup.center) |- (acan.center) (clup.center) |- (esoc.center);
                \path[branch] (esoc.center) |- (enshhu.center) (esoc.center) |- (esolu.center);
                \path[branch] (acan.center) |- (cypr.center) (acan.center) |- (perc.center);
                \path[branch] (cypr.center) |- (cyprA.center) (cypr.center) |- (ensgwi.center);
                \path[branch] (cyprA.center) |- (cyprB.center) (cyprA.center) |- (cypva.center);
                \path[branch] (cyprB.center) |- (cyprC.center) (cyprB.center) |- (funhe.center);
                \path[branch] (cyprC.center) |- (poec.center) (cyprC.center) |- (poecB.center);
                \path[branch] (poec.center) |- (xiph.center) (poec.center) |- (gamaf.center);
                \path[branch] (xiph.center) |- (ensxco.center) (xiph.center) |- (xipma.center);
                \path[branch] (poecB.center) |- (poecC.center) (poecB.center) |- (enspme.center);
                \path[branch] (poecC.center) |- (poefo.center) (poecC.center) |- (enspla.center);
                \path[branch] (perc.center) |- (percA.center) (perc.center) |- (percH.center);
                \path[branch] (percA.center) |- (percB.center) (percA.center) |- (cich.center);
                \path[branch] (percB.center) |- (percC.center) (percB.center) |- (gast.center);
                \path[branch] (percC.center) |- (scom.center) (percC.center) |- (lar.center);
                \path[branch] (scom.center) |- (scomA.center) (scom.center) |- (anate.center);
                \path[branch] (scomA.center) |- (scomB.center) (scomA.center) |- (latca.center);
                \path[branch] (scomB.center) |- (scomC.center) (scomB.center) |- (scomx.center);
                \path[branch] (scomC.center) |- (enssld.center) (scomC.center) |- (serdu.center);
                \path[branch] (lar.center) |- (larcr.center) (lar.center) |- (cotgo.center);
                \path[branch] (gast.center) |- (gastA.center) (gast.center) |- (betsp.center);
                \path[branch] (gastA.center) |- (enslbe.center) (gastA.center) |- (gasac.center);
                \path[branch] (cich.center) |- (cichA.center) (cich.center) |- (cichH.center);
                \path[branch] (cichA.center) |- (cichB.center) (cichA.center) |- (kryma.center);
                \path[branch] (cichB.center) |- (cichC.center) (cichB.center) |- (ampci.center);
                \path[branch] (cichC.center) |- (cichD.center) (cichC.center) |- (oreni.center);
                \path[branch] (cichD.center) |- (cichE.center) (cichD.center) |- (neobr.center);
                \path[branch] (cichE.center) |- (cichF.center) (cichE.center) |- (ensmze.center);
                \path[branch] (cichF.center) |- (cichG.center) (cichF.center) |- (hapbu.center);
                \path[branch] (cichG.center) |- (astca.center) (cichG.center) |- (enspny.center);
                \path[branch] (cichH.center) |- (cichI.center) (cichH.center) |- (ensprn.center);
                \path[branch] (cichI.center) |- (cichJ.center) (cichI.center) |- (ensspa.center);
                \path[branch] (cichJ.center) |- (amp.center) (cichJ.center) |- (ensapo.center);
                \path[branch] (amp.center) |- (ampoc.center) (amp.center) |- (amppe.center);
                \path[branch] (percH.center) |- (percI.center) (percH.center) |- (tetn.center);
                \path[branch] (percI.center) |- (mon.center) (percI.center) |- (ath.center);
                \path[branch] (mon.center) |- (monal.center) (mon.center) |- (ensmam.center);
                \path[branch] (ath.center) |- (athA.center) (ath.center) |- (hipcm.center);
                \path[branch] (athA.center) |- (ory.center) (athA.center) |- (cynse.center);
                \path[branch] (ory.center) |- (oryA.center) (ory.center) |- (oryme.center);
                \path[branch] (oryA.center) |- (oryB.center) (oryA.center) |- (orylaC.center);
                \path[branch] (oryB.center) |- (orylaA.center) (oryB.center) |- (orylaB.center);
                \path[branch] (tetn.center) |- (molml.center) (tetn.center) |- (tetng.center);
                \end{scope}
            \end{tikzpicture}
\end{document}
